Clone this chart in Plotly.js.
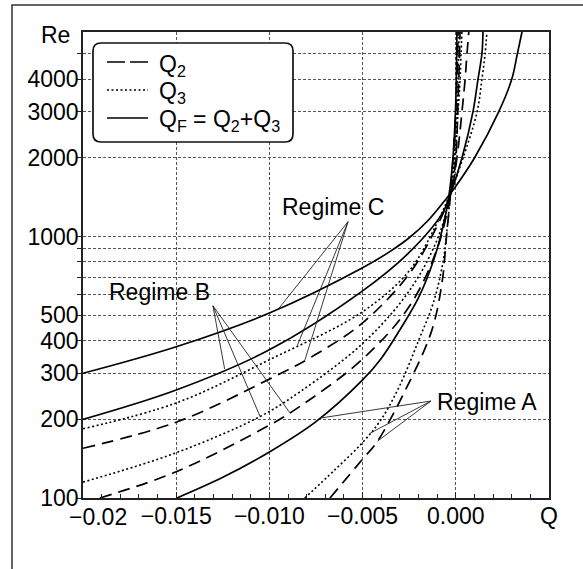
<!DOCTYPE html>
<html><head><meta charset="utf-8">
<script src="https://cdn.plot.ly/plotly-3.0.1.min.js"></script>
<style>html,body{margin:0;padding:0;background:#fff}#chart{width:583px;height:569px}</style>
</head><body><div id="chart"></div>
<script>
// ---- data (Q, Re) ----
// Regime C
const Q_C_F = [-0.020, -0.015, -0.010, -0.005, -0.0035, -0.0025, -0.0015, -0.0005, 0.0, 0.001, 0.0023, 0.003, 0.0033, 0.0036];
const Re_C_F = [300, 379, 510, 760, 880, 990, 1150, 1400, 1560, 2000, 3000, 4000, 5000, 6300];
const Q_C_3 = [-0.020, -0.015, -0.010, -0.005, -0.0025, -0.001, -0.00026, 0.00039, 0.00114, 0.0014, 0.00157, 0.00167];
const Re_C_3 = [184, 231, 338, 516, 740, 1130, 1490, 2000, 3000, 4000, 5000, 6100];
const Q_C_2 = [-0.020, -0.015, -0.010, -0.00755, -0.005, -0.0025, -0.001, -0.00026, 0.00006, 0.00033, 0.0005, 0.0006, 0.0007];
const Re_C_2 = [155, 195, 285, 353, 468, 720, 1100, 1474, 2000, 3000, 4000, 5000, 6100];
// Regime B
const Q_B_F = [-0.020, -0.015, -0.010, -0.005, -0.0025, -0.0007, -0.0003, 0.00033, 0.00092, 0.00119, 0.0014, 0.00146];
const Re_B_F = [200, 259, 369, 620, 870, 1236, 1448, 2000, 3000, 4000, 5000, 6100];
const Q_B_3 = [-0.020, -0.015, -0.0105, -0.00836, -0.005, -0.0025, -0.001, -0.0003, -0.00004, 0.00012, 0.00023, 0.00028, 0.00033];
const Re_B_3 = [115, 149, 205, 255, 390, 620, 974, 1450, 2000, 3000, 4000, 5000, 6100];
const Q_B_2 = [-0.0191, -0.015, -0.010, -0.0087, -0.005, -0.0025, -0.001, -0.0003, 0.0, 0.0001, 0.00016, 0.0002, 0.00023];
const Re_B_2 = [100, 126, 190, 216, 340, 540, 900, 1420, 2000, 3000, 4000, 5000, 6100];
// Regime A
const Q_A_F = [-0.01496, -0.0125, -0.010, -0.0075, -0.005, -0.004, -0.003, -0.002, -0.0012, -0.0007, -0.0004, -0.00015, 0.0, 0.00006];
const Re_A_F = [100, 120, 150, 196, 283, 342, 440, 584, 809, 1083, 1386, 2000, 3300, 6100];
const Q_A_3 = [-0.0081, -0.0065, -0.005, -0.004, -0.003, -0.002, -0.0012, -0.0007, -0.00047, -0.0003, -0.0001, 0.00005, 0.00012, 0.00017];
const Re_A_3 = [100, 128, 163, 200, 270, 400, 560, 790, 1064, 1420, 2000, 3000, 4000, 6100];
const Q_A_2 = [-0.00675, -0.00503, -0.0042, -0.00262, -0.0013, -0.00074, -0.0005, -0.0003, -0.00015, 0.0, 0.00006, 0.00012];
const Re_A_2 = [100, 140, 165, 266, 435, 666, 1000, 1420, 2000, 3000, 4000, 6100];

// tick labels (the -0.02 label is drawn shifted right, as in the source figure)
const xTickVals = [-0.015, -0.01, -0.005, 0, 0.005];
const xTickText = ['\u22120.015', '\u22120.010', '\u22120.005', '0.000', 'Q'];
const xFirstLabel = '\u22120.02';
const yTickVals = [100, 200, 300, 400, 500, 1000, 2000, 3000, 4000];
const yTickText = ['100', '200', '300', '400', '500', '1000', '2000', '3000', '4000'];
const yGridExtra = [600, 700, 800, 900, 5000];

// regime labels: pointer tip (Q, Re) and the Q positions on curves they point to
const regimeNames = ['Regime A', 'Regime B', 'Regime C'];
const tipQ = [-0.00133, -0.01303, -0.00578];
const tipRe = [235, 544, 1141];
const pointQ = [[-0.00729, -0.0046, -0.0042], [-0.0124, -0.0105, -0.0089], [-0.0095, -0.0085, -0.0081]];

// ---- layout geometry ----
const FONT = 'Liberation Sans, Arial, Helvetica, sans-serif';
const W = 583, H = 569, L = 83, R = 34, T = 32, B = 71;
const PW = W - L - R, PH = H - T - B;
const px = x => (x - L) / PW;
const py = y => (H - B - y) / PH;

const DASH = '12px,7px', DOT = '2px,2.5px';
const curves = [
  [Q_C_F, Re_C_F, 'solid'], [Q_C_3, Re_C_3, DOT], [Q_C_2, Re_C_2, DASH],
  [Q_B_F, Re_B_F, 'solid'], [Q_B_3, Re_B_3, DOT], [Q_B_2, Re_B_2, DASH],
  [Q_A_F, Re_A_F, 'solid'], [Q_A_3, Re_A_3, DOT], [Q_A_2, Re_A_2, DASH]
];
const regimeCurves = [[6, 7, 8], [3, 4, 5], [0, 1, 2]];

function interpRe(qs, res, q) {
  for (let i = 0; i < qs.length - 1; i++) {
    if (q >= qs[i] && q <= qs[i + 1]) {
      const t = (q - qs[i]) / (qs[i + 1] - qs[i]);
      return Math.pow(10, Math.log10(res[i]) + t * (Math.log10(res[i + 1]) - Math.log10(res[i])));
    }
  }
  return res[0];
}

const traces = curves.map(c => ({
  x: c[0], y: c[1], type: 'scatter', mode: 'lines', hoverinfo: 'skip', showlegend: false,
  line: {color: '#000', width: c[2] === DOT ? 1.6 : 1.7, dash: c[2], shape: 'spline', smoothing: 1}
}));

regimeCurves.forEach((idxs, r) => {
  idxs.forEach((ci, k) => {
    const q = pointQ[r][k];
    const re = interpRe(curves[ci][0], curves[ci][1], q);
    traces.push({
      x: [tipQ[r], q], y: [tipRe[r], re], type: 'scatter', mode: 'lines', hoverinfo: 'skip', showlegend: false,
      line: {color: '#222', width: 0.9}
    });
  });
});

const txt = (s, x, y, xa, size) => ({
  text: s, x: x, y: y, xref: 'paper', yref: 'paper', xanchor: xa || 'center', yanchor: 'middle',
  showarrow: false, font: {family: FONT, size: size || 23, color: '#000'}
});

const annotations = [
  txt('Re', px(72), py(35), 'right'),
  txt(xFirstLabel, px(98), py(517)),
  txt(regimeNames[0], px(435), py(402), 'left'),
  txt(regimeNames[1], px(159), py(292)),
  txt(regimeNames[2], px(333), py(207)),
  txt('Q<sub>2</sub>', px(157), py(65), 'left'),
  txt('Q<sub>3</sub>', px(157), py(92), 'left'),
  txt('Q<sub>F</sub> = Q<sub>2</sub>+Q<sub>3</sub>', px(157), py(121), 'left')
];

const x0 = px(93), x1 = px(293), yT = py(43), yB = py(142), rx = 8 / PW, ry = 8 / PH;
const legendPath = `M ${x0 + rx},${yT} L ${x1 - rx},${yT} Q ${x1},${yT} ${x1},${yT - ry} L ${x1},${yB + ry} Q ${x1},${yB} ${x1 - rx},${yB} L ${x0 + rx},${yB} Q ${x0},${yB} ${x0},${yB + ry} L ${x0},${yT - ry} Q ${x0},${yT} ${x0 + rx},${yT} Z`;

const shapes = [
  {type: 'rect', xref: 'paper', yref: 'paper', x0: px(12), x1: 2, y0: -2, y1: py(5), line: {color: '#333', width: 1.5}, layer: 'above'},
  {type: 'path', xref: 'paper', yref: 'paper', path: legendPath, fillcolor: '#fff', line: {color: '#111', width: 1.7}, layer: 'above'},
  {type: 'line', xref: 'paper', yref: 'paper', x0: px(107), x1: px(148), y0: py(62), y1: py(62), line: {color: '#000', width: 1.7, dash: '18px,5px'}, layer: 'above'},
  {type: 'line', xref: 'paper', yref: 'paper', x0: px(107), x1: px(148), y0: py(90), y1: py(90), line: {color: '#000', width: 1.5, dash: DOT}, layer: 'above'},
  {type: 'line', xref: 'paper', yref: 'paper', x0: px(107), x1: px(148), y0: py(118), y1: py(118), line: {color: '#000', width: 1.7}, layer: 'above'}
];

const GRID = {gridcolor: '#555', gridwidth: 1, griddash: '3px,2px'};
const axisCommon = Object.assign({
  showgrid: true, showline: true, mirror: true, linecolor: '#222', linewidth: 1.8,
  zeroline: false, tickfont: {family: FONT, size: 23, color: '#000'}, tickcolor: '#222'
}, GRID);

const layout = {
  width: W, height: H, margin: {l: L, r: R, t: T, b: B},
  paper_bgcolor: '#fff', plot_bgcolor: '#fff', showlegend: false,
  xaxis: Object.assign({}, axisCommon, {
    range: [-0.02, 0.005], tickmode: 'array', tickvals: xTickVals, ticktext: xTickText,
    ticks: 'inside', ticklen: 6, ticklabelstandoff: -3,
    minor: {tickmode: 'linear', tick0: 0, dtick: 0.001, ticks: 'inside', ticklen: 4, tickcolor: '#222', showgrid: false}
  }),
  yaxis: Object.assign({}, axisCommon, {
    type: 'log', range: [2, 3.783], tickmode: 'array', tickvals: yTickVals, ticktext: yTickText,
    ticks: 'outside', ticklen: 4, ticklabelstandoff: -6,
    minor: Object.assign({tickmode: 'array', tickvals: yGridExtra, ticks: 'outside', ticklen: 4, tickcolor: '#222', showgrid: true}, GRID)
  }),
  annotations: annotations, shapes: shapes
};

Plotly.newPlot('chart', traces, layout, {staticPlot: true, displayModeBar: false});
</script></body></html>
